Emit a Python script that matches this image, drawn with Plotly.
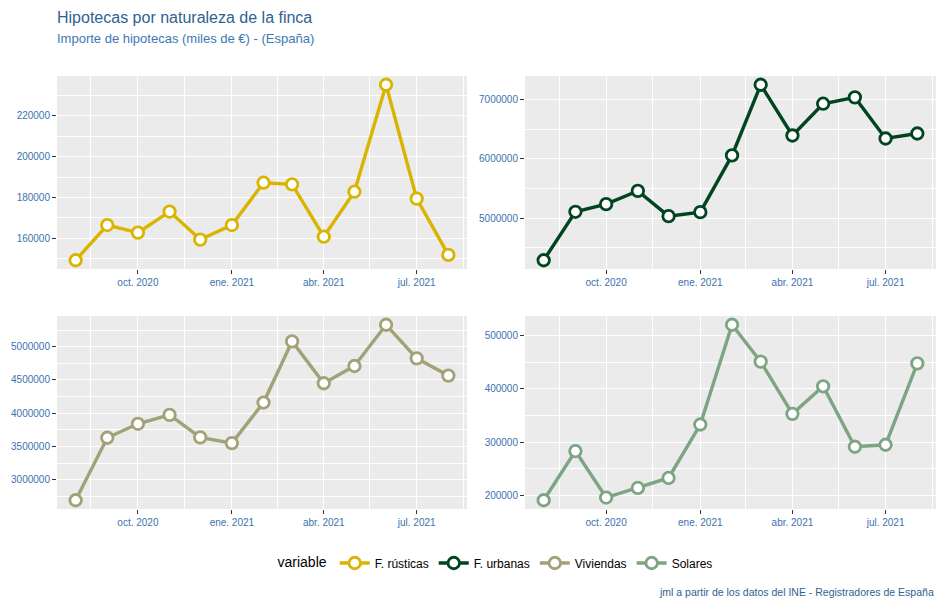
import plotly.graph_objects as go

months = ["2020-08-01", "2020-09-01", "2020-10-01", "2020-11-01", "2020-12-01",
          "2021-01-01", "2021-02-01", "2021-03-01", "2021-04-01", "2021-05-01",
          "2021-06-01", "2021-07-01", "2021-08-01"]

rusticas = [149300, 166500, 162800, 173100, 159400, 166500, 187200, 186400,
            160800, 182800, 235100, 179400, 151900]
urbanas = [4290000, 5106000, 5235000, 5458000, 5033000, 5100000, 6056000,
           7246000, 6391000, 6927000, 7034000, 6341000, 6425000]
viviendas = [2690000, 3630000, 3840000, 3975000, 3635000, 3550000, 4160000,
             5080000, 4450000, 4710000, 5330000, 4825000, 4565000]
solares = [191300, 283400, 196300, 214300, 233000, 333100, 519900, 450800,
           353100, 404700, 291500, 295200, 447700]

series_names = ["F. rústicas", "F. urbanas", "Viviendas", "Solares"]
series_values = [rusticas, urbanas, viviendas, solares]
colors = ["#D9B400", "#00451F", "#A2A278", "#7EA583"]

x_tickvals = ["2020-10-01", "2021-01-01", "2021-04-01", "2021-07-01"]
x_ticktext = ["oct. 2020", "ene. 2021", "abr. 2021", "jul. 2021"]
x_minorvals = ["2020-08-16", "2020-11-15 12:00", "2021-02-14 12:00", "2021-05-16", "2021-08-16"]
x_range = ["2020-07-13 18:00", "2021-08-19 06:00"]

y_dticks = [20000, 1000000, 500000, 100000]

title = "Hipotecas por naturaleza de la finca"
subtitle = "Importe de hipotecas (miles de €) - (España)"
caption = "jml a partir de los datos del INE - Registradores de España"

# the page body adds an 8px offset; work in window pixels and shift
OFF = 8
W, H = 944 - OFF, 607 - OFF
PL, PR, PT, PB = 57, 936, 76, 509          # plot area in window pixels
L, R, T, B = PL - OFF, W - (PR - OFF), PT - OFF, H - (PB - OFF)
pw, ph = W - L - R, H - T - B

def xd(a, b):
    return [(a - PL) / pw, (b - PL) / pw]

def yd(top, bot):
    return [(PB - bot) / ph, (PB - top) / ph]

def ypix(y):
    return (PB - y) / ph

domains = [
    (xd(57, 467), yd(76, 269)),
    (xd(525, 936), yd(76, 269)),
    (xd(57, 467), yd(316, 509)),
    (xd(525, 936), yd(316, 509)),
]

tick_blue = "#3B72AE"
fig = go.Figure()
layout = {}
for i, (name, vals, col) in enumerate(zip(series_names, series_values, colors)):
    n = i + 1
    xa = "x" if n == 1 else f"x{n}"
    ya = "y" if n == 1 else f"y{n}"
    fig.add_trace(go.Scatter(
        x=months, y=vals, name=name, mode="lines+markers",
        xaxis=xa, yaxis=ya,
        line=dict(color=col, width=3.4),
        marker=dict(size=11.5, color="white", line=dict(color=col, width=2.8)),
    ))
    lo, hi = min(vals), max(vals)
    pad = (hi - lo) * 0.05
    dt = y_dticks[i]
    xd_, yd_ = domains[i]
    layout["xaxis" if n == 1 else f"xaxis{n}"] = dict(
        domain=xd_, anchor=ya, type="date", range=x_range,
        tickmode="array", tickvals=x_tickvals, ticktext=x_ticktext,
        ticks="outside", ticklen=4, tickcolor="#333333", tickwidth=1,
        tickfont=dict(size=10, color=tick_blue),
        showgrid=True, gridcolor="white", gridwidth=1.3,
        minor=dict(tickmode="array", tickvals=x_minorvals, showgrid=True,
                   gridcolor="white", gridwidth=0.6, ticks=""),
        zeroline=False, showline=False,
    )
    layout["yaxis" if n == 1 else f"yaxis{n}"] = dict(
        domain=yd_, anchor=xa, range=[lo - pad, hi + pad],
        tick0=0, dtick=dt, tickformat="d",
        ticks="outside", ticklen=4, tickcolor="#333333", tickwidth=1,
        tickfont=dict(size=10, color=tick_blue),
        showgrid=True, gridcolor="white", gridwidth=1.3,
        minor=dict(tick0=0, dtick=dt / 2, showgrid=True,
                   gridcolor="white", gridwidth=0.6, ticks=""),
        zeroline=False, showline=False,
    )

fig.update_layout(**layout)
fig.update_layout(
    width=W, height=H,
    margin=dict(l=L, r=R, t=T, b=B, autoexpand=False),
    paper_bgcolor="white", plot_bgcolor="#EBEBEB",
    font=dict(family="Liberation Sans, Arial, sans-serif"),
    showlegend=True,
    legend=dict(
        orientation="h", x=0.5, xanchor="center", y=ypix(563), yanchor="middle",
        title=dict(text="variable", font=dict(size=14, color="black"), side="left"),
        font=dict(size=12, color="black"), itemwidth=30,
        bgcolor="rgba(0,0,0,0)",
    ),
    annotations=[
        dict(text=title, xref="paper", yref="paper", x=-0.002, y=ypix(17.5),
             xanchor="left", yanchor="middle", showarrow=False,
             font=dict(size=16, color="#2E6293")),
        dict(text=subtitle, xref="paper", yref="paper", x=-0.002, y=ypix(38.5),
             xanchor="left", yanchor="middle", showarrow=False,
             font=dict(size=13, color="#3B78B4")),
        dict(text=caption, xref="paper", yref="paper", x=1, y=ypix(592),
             xanchor="right", yanchor="middle", showarrow=False,
             font=dict(size=10.5, color="#2E6293")),
    ],
)

fig.write_html("out.html")
